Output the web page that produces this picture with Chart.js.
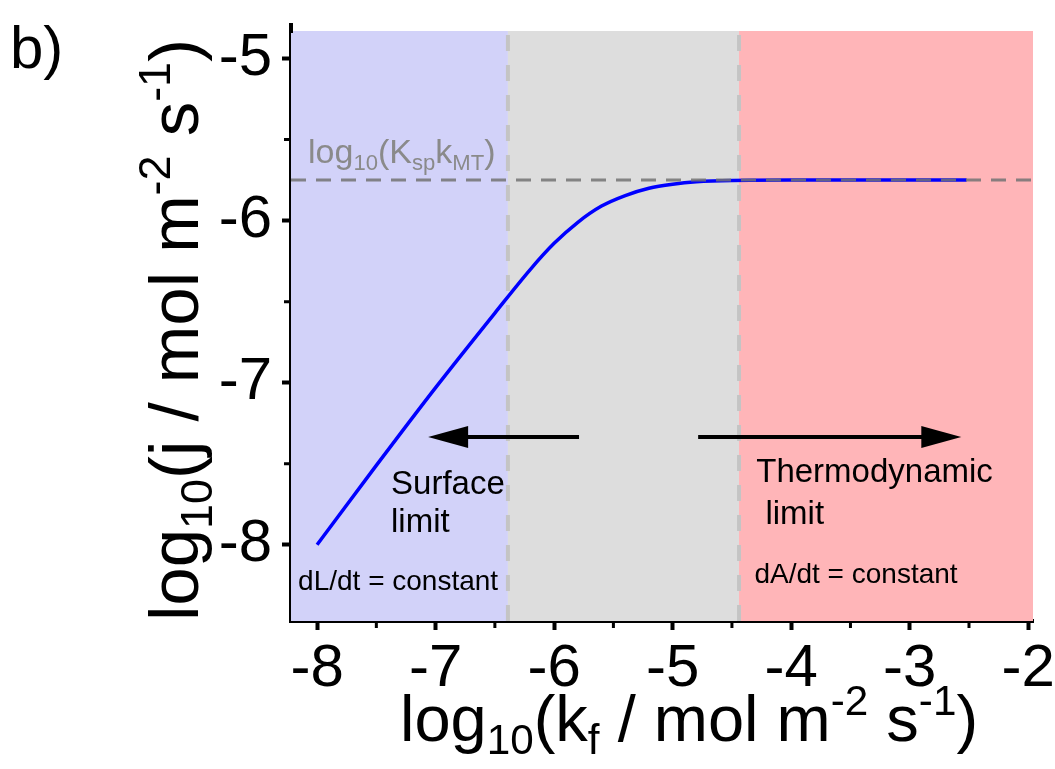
<!DOCTYPE html>
<html>
<head>
<meta charset="utf-8">
<script src="https://cdn.jsdelivr.net/npm/chart.js@4.4.0/dist/chart.umd.min.js"></script>
<style>
  html, body { margin: 0; padding: 0; background: #fff; }
  #wrap { width: 1055px; height: 769px; }
</style>
</head>
<body>
<div id="wrap"><canvas id="chart" width="1055" height="769"></canvas></div>
<script>
// values (log10 units)
const logKf = [-8, -7.5, -7, -6.5, -6.2, -6, -5.8, -5.6, -5.4, -5.2, -5, -4.8, -4.5, -4, -3.5, -3, -2.52];
const logJ = [-8.00, -7.51, -7.03, -6.57, -6.30, -6.14, -6.01, -5.91, -5.845, -5.80, -5.775, -5.76, -5.752, -5.75, -5.75, -5.75, -5.75];
const plateau = -5.75;              // log10(Ksp kMT)
const regionBounds = [-6.39, -4.44]; // surface | mixed | thermodynamic
const xTicks = [-8, -7, -6, -5, -4, -3, -2];
const yTicks = [-8, -7, -6, -5];
const xRange = [-8.22, -1.96];
const yRange = [-8.47, -4.83];

const FONT = '"Liberation Sans", Arial, sans-serif';

function richText(ctx, parts, x, y, size, align) {
  const fontFor = s => `${s}px ${FONT}`;
  let w = 0;
  parts.forEach(([t, m]) => {
    ctx.font = fontFor(m ? size * 0.65 : size);
    w += ctx.measureText(t).width;
  });
  let cx = align === 'center' ? x - w / 2 : x;
  ctx.textAlign = 'left';
  ctx.textBaseline = 'alphabetic';
  parts.forEach(([t, m]) => {
    const s = m ? size * 0.65 : size;
    ctx.font = fontFor(s);
    const dy = m === 'sub' ? size * 0.2 : m === 'sup' ? -size * 0.4 : 0;
    ctx.fillText(t, cx, y + dy);
    cx += ctx.measureText(t).width;
  });
}

function arrow(ctx, x0, x1, y) {
  const dir = Math.sign(x1 - x0);
  ctx.save();
  ctx.strokeStyle = '#000';
  ctx.fillStyle = '#000';
  ctx.lineWidth = 4;
  ctx.beginPath();
  ctx.moveTo(x0, y);
  ctx.lineTo(x1 - dir * 30, y);
  ctx.stroke();
  ctx.beginPath();
  ctx.moveTo(x1, y);
  ctx.lineTo(x1 - dir * 40, y - 11);
  ctx.lineTo(x1 - dir * 40, y + 11);
  ctx.closePath();
  ctx.fill();
  ctx.restore();
}

const decorations = {
  id: 'decorations',
  beforeDatasetsDraw(chart) {
    const { ctx, chartArea: a, scales: { x } } = chart;
    const b0 = x.getPixelForValue(regionBounds[0]);
    const b1 = x.getPixelForValue(regionBounds[1]);
    ctx.save();
    ctx.fillStyle = '#d2d2f9';
    ctx.fillRect(a.left, a.top, b0 - a.left, a.bottom - a.top);
    ctx.fillStyle = '#dddddd';
    ctx.fillRect(b0, a.top, b1 - b0, a.bottom - a.top);
    ctx.fillStyle = '#ffb5b8';
    ctx.fillRect(b1, a.top, a.right - b1, a.bottom - a.top);
    ctx.restore();
  },
  afterDatasetsDraw(chart) {
    const { ctx, scales: { x, y } } = chart;
    const px = v => x.getPixelForValue(v);
    const py = v => y.getPixelForValue(v);
    ctx.save();
    ctx.fillStyle = '#8a8a8a';
    richText(ctx, [['log'], ['10', 'sub'], ['(K'], ['sp', 'sub'], ['k'], ['MT', 'sub'], [')']],
      px(-8.076), py(-5.647), 34, 'left');

    arrow(ctx, px(-5.79), px(-7.063), py(-7.335));
    arrow(ctx, px(-4.785), px(-2.565), py(-7.335));

    ctx.fillStyle = '#000';
    ctx.textAlign = 'left';
    ctx.textBaseline = 'alphabetic';
    ctx.font = `33px ${FONT}`;
    ctx.fillText('Surface', px(-7.376), py(-7.686));
    ctx.fillText('limit', px(-7.376), py(-7.92));
    ctx.fillText('Thermodynamic', px(-4.295), py(-7.61));
    ctx.fillText(' limit', px(-4.295), py(-7.87));
    ctx.font = `28px ${FONT}`;
    ctx.fillText('dL/dt = constant', px(-8.16), py(-8.28));
    ctx.fillText('dA/dt = constant', px(-4.31), py(-8.235));
    ctx.restore();
  },
  afterDraw(chart) {
    const { ctx, chartArea: a, scales: { x, y } } = chart;
    ctx.save();
    // axis line runs a little above the plot
    ctx.strokeStyle = '#000';
    ctx.lineWidth = 4;
    ctx.beginPath();
    ctx.moveTo(a.left, a.top - 8);
    ctx.lineTo(a.left, a.top + 2);
    ctx.stroke();
    // minor ticks
    ctx.lineWidth = 3;
    ctx.beginPath();
    for (let v = -7.5; v < -2; v += 1) {
      const p = x.getPixelForValue(v);
      ctx.moveTo(p, a.bottom + 2);
      ctx.lineTo(p, a.bottom + 7);
    }
    for (let v = -7.5; v < -5; v += 1) {
      const p = y.getPixelForValue(v);
      ctx.moveTo(a.left - 2, p);
      ctx.lineTo(a.left - 7, p);
    }
    ctx.stroke();

    ctx.fillStyle = '#000';
    richText(ctx, [['log'], ['10', 'sub'], ['(k'], ['f', 'sub'], [' / mol m'], ['-2', 'sup'], [' s'], ['-1', 'sup'], [')']],
      689, 741, 65, 'center');

    ctx.translate(198, 330);
    ctx.rotate(-Math.PI / 2);
    richText(ctx, [['log'], ['10', 'sub'], ['(j / mol m'], ['-2', 'sup'], [' s'], ['-1', 'sup'], [')']],
      0, 0, 69, 'center');
    ctx.restore();

    ctx.save();
    ctx.fillStyle = '#000';
    ctx.font = `60px ${FONT}`;
    ctx.textAlign = 'left';
    ctx.textBaseline = 'alphabetic';
    ctx.fillText('b)', 10, 68);
    ctx.restore();
  }
};

const axisCommon = {
  type: 'linear',
  border: { display: true, color: '#000', width: 4 },
  grid: {
    display: true,
    drawOnChartArea: false,
    drawTicks: true,
    tickLength: 9,
    tickWidth: 4,
    tickColor: '#000'
  }
};

const noPadding = s => {
  s.paddingTop = 0;
  s.paddingBottom = 0;
  s.paddingLeft = 0;
  s.paddingRight = 0;
};

new Chart(document.getElementById('chart'), {
  type: 'line',
  data: {
    datasets: [
      {
        data: logKf.map((v, i) => ({ x: v, y: logJ[i] })),
        borderColor: '#0000ff',
        borderWidth: 3.5,
        pointRadius: 0,
        cubicInterpolationMode: 'monotone',
        order: 1
      },
      {
        data: [{ x: xRange[0], y: plateau }, { x: xRange[1], y: plateau }],
        borderColor: 'rgba(115,115,115,0.85)',
        borderWidth: 3,
        borderDash: [15, 10],
        pointRadius: 0,
        order: 0
      },
      ...regionBounds.map(b => ({
        data: [{ x: b, y: yRange[0] }, { x: b, y: yRange[1] }],
        borderColor: '#c4c4c4',
        borderWidth: 4,
        borderDash: [16, 14],
        pointRadius: 0,
        order: 2
      }))
    ]
  },
  options: {
    responsive: false,
    animation: false,
    devicePixelRatio: 1,
    layout: { padding: { top: 31, right: 22, left: 0, bottom: 0 } },
    plugins: { legend: { display: false }, tooltip: { enabled: false } },
    scales: {
      x: {
        ...axisCommon,
        min: xRange[0],
        max: xRange[1],
        afterBuildTicks: s => { s.ticks = xTicks.map(v => ({ value: v })); },
        afterFit: s => { s.height = 148; noPadding(s); },
        ticks: {
          color: '#000',
          padding: 3,
          font: { family: FONT, size: 60 },
          callback: v => `${v}`
        }
      },
      y: {
        ...axisCommon,
        min: yRange[0],
        max: yRange[1],
        afterBuildTicks: s => { s.ticks = yTicks.map(v => ({ value: v })); },
        afterFit: s => { s.width = 291; noPadding(s); },
        ticks: {
          color: '#000',
          padding: 10,
          font: { family: FONT, size: 60 },
          callback: v => `${v}`
        }
      }
    }
  },
  plugins: [decorations]
});
</script>
</body>
</html>
